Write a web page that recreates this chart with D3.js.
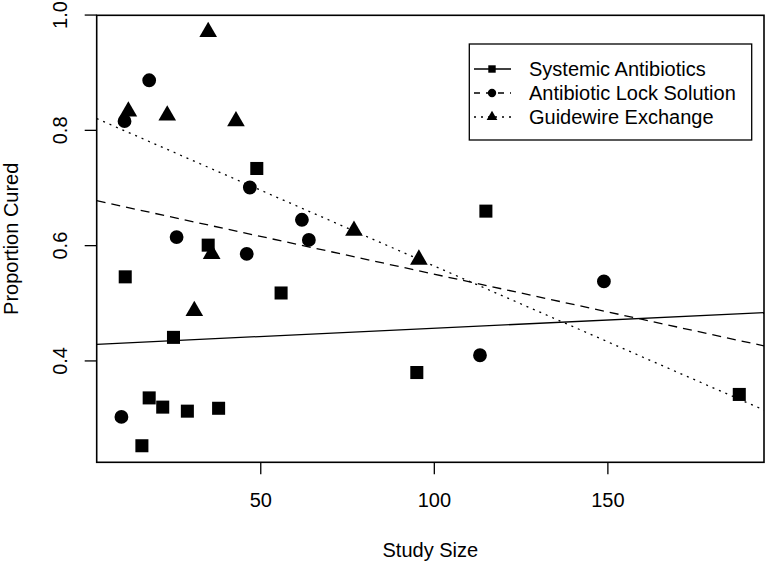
<!DOCTYPE html>
<html><head><meta charset="utf-8">
<script src="https://cdn.jsdelivr.net/npm/d3@7"></script>
<style>body{margin:0;background:#fff}svg{display:block}text{font-family:"Liberation Sans",Arial,sans-serif;fill:#000}</style>
</head><body><svg id="c" width="768" height="564"></svg>
<script>
// Data
const sysX = [11.1, 15.9, 18.0, 21.9, 29.0, 38.0, 25.0, 35.0, 49.0, 56.0, 95.1, 115.0, 188.0];
const sysY = [0.545, 0.252, 0.335, 0.319, 0.312, 0.317, 0.440, 0.600, 0.733, 0.517, 0.379, 0.659, 0.341];
const lockX = [10.0, 10.9, 18.0, 25.9, 47.0, 46.1, 62.0, 64.0, 113.3, 149.0];
const lockY = [0.302, 0.815, 0.886, 0.614, 0.700, 0.585, 0.644, 0.609, 0.409, 0.537];
const guideX = [12.0, 23.2, 35.0, 43.0, 36.0, 31.0, 77.0, 95.7];
const guideY = [0.832, 0.825, 0.970, 0.815, 0.585, 0.486, 0.625, 0.575];
// fitted lines: [intercept, slope]
const sysFit = [0.4272, 0.000286];
const lockFit = [0.6808, -0.00131];
const guideFit = [0.8271, -0.00263];
const seriesNames = ["Systemic Antibiotics", "Antibiotic Lock Solution", "Guidewire Exchange"];
const xTicks = [50, 100, 150];
const yTicks = [0.4, 0.6, 0.8, 1.0];

const svg = d3.select("#c");
const L = 96.7, R = 764, T = 15.3, B = 462.3;
const allX = sysX.concat(lockX, guideX), allY = sysY.concat(lockY, guideY);
function pad(ext){const d=(ext[1]-ext[0])*0.04;return [ext[0]-d, ext[1]+d];}
const x = d3.scaleLinear().domain(pad(d3.extent(allX))).range([L, R]);
const y = d3.scaleLinear().domain(pad(d3.extent(allY))).range([B, T]);

svg.append("clipPath").attr("id","pc").append("rect")
  .attr("x",L).attr("y",T).attr("width",R-L).attr("height",B-T);

// trend lines
const fits = [[sysFit, null],[lockFit,"9,6"],[guideFit,"2,5"]];
const xd = x.domain();
fits.forEach(([f,dash])=>{
  svg.append("line").attr("clip-path","url(#pc)")
    .attr("x1",x(xd[0])).attr("x2",x(xd[1]))
    .attr("y1",y(f[0]+f[1]*xd[0])).attr("y2",y(f[0]+f[1]*xd[1]))
    .attr("stroke","#000").attr("stroke-width",1.3)
    .attr("stroke-dasharray",dash);
});

// axes
const xa = svg.append("g").attr("transform",`translate(0,${B})`)
  .call(d3.axisBottom(x).tickValues(xTicks).tickSize(12).tickFormat(d3.format("d")));
xa.select(".domain").remove();
xa.selectAll("line").attr("stroke-width",1.3);
xa.selectAll("text").attr("font-size",20).attr("dy",0).attr("y",44.7);

const ya = svg.append("g").attr("transform",`translate(${L},0)`)
  .call(d3.axisLeft(y).tickValues(yTicks).tickSize(12).tickFormat(d3.format(".1f")));
ya.select(".domain").remove();
ya.selectAll("line").attr("stroke-width",1.3);
ya.selectAll("text").attr("font-size",20).attr("x",0).attr("dy",0)
  .attr("text-anchor","middle")
  .attr("transform",`translate(-30,0) rotate(-90)`);

// box
svg.append("rect").attr("x",L).attr("y",T).attr("width",R-L).attr("height",B-T)
  .attr("fill","none").attr("stroke","#000").attr("stroke-width",1.6);

// markers
const sq = d3.symbol().type(d3.symbolSquare).size(170);
const ci = d3.symbol().type(d3.symbolCircle).size(150);
const tr = d3.symbol().type(d3.symbolTriangle).size(135);
function pts(xs, ys, sym){
  svg.append("g").selectAll("path").data(xs.map((v,i)=>[v,ys[i]])).join("path")
    .attr("d",sym).attr("fill","#000")
    .attr("transform",d=>`translate(${x(d[0])},${y(d[1])})`);
}
pts(sysX, sysY, sq);
pts(lockX, lockY, ci);
pts(guideX, guideY, tr);

// axis titles
svg.append("text").attr("x",(L+R)/2).attr("y",557).attr("text-anchor","middle")
  .attr("font-size",20).text("Study Size");
svg.append("text").attr("transform",`translate(18,${(T+B)/2}) rotate(-90)`)
  .attr("text-anchor","middle").attr("font-size",20).text("Proportion Cured");

// legend
const lg = svg.append("g");
lg.append("rect").attr("x",469.3).attr("y",44).attr("width",282.4).attr("height",96)
  .attr("fill","#fff").attr("stroke","#000").attr("stroke-width",1.3);
const lsyms = [d3.symbol().type(d3.symbolSquare).size(55), d3.symbol().type(d3.symbolCircle).size(55), d3.symbol().type(d3.symbolTriangle).size(50)];
const ldash = [null, "6,6", "2,5"];
seriesNames.forEach((n,i)=>{
  const cy = 69 + i*24;
  lg.append("line").attr("x1",474).attr("x2",511).attr("y1",cy).attr("y2",cy)
    .attr("stroke","#000").attr("stroke-width",1.3).attr("stroke-dasharray",ldash[i]);
  lg.append("path").attr("d",lsyms[i]).attr("transform",`translate(492,${cy})`).attr("fill","#000");
  lg.append("text").attr("x",529).attr("y",cy+7).attr("font-size",20).text(n);
});
</script></body></html>
